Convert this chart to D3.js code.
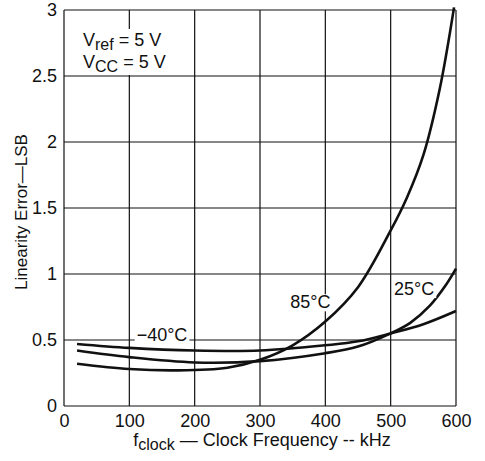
<!DOCTYPE html>
<html><head><meta charset="utf-8">
<script src="https://cdn.jsdelivr.net/npm/d3@7"></script>
<style>body{margin:0;background:#fff}svg{display:block}text{font-family:"Liberation Sans",Arial,sans-serif;fill:#111}</style>
</head><body><svg id="c" width="485" height="461"></svg>
<script>
const xTicks = [0,100,200,300,400,500,600];
const yTicks = [0,0.5,1,1.5,2,2.5,3];
const yTickLabels = ["0","0.5","1","1.5","2","2.5","3"];
const freqM40 = [20,100,200,300,400,450,500,550,600];
const valM40  = [0.47,0.44,0.42,0.42,0.46,0.49,0.55,0.62,0.72];
const freq25 = [20,100,200,300,400,450,500,530,560,585,600];
const val25  = [0.42,0.37,0.33,0.34,0.40,0.45,0.55,0.63,0.76,0.92,1.04];
const freq85 = [20,100,175,250,300,350,400,450,500,525,550,575,597];
const val85  = [0.32,0.28,0.27,0.29,0.35,0.46,0.64,0.90,1.33,1.58,1.90,2.40,3.02];
const curveLabels = [
  {t:"\u221240\u00b0C", f:150, v:0.49},
  {t:"85\u00b0C", f:377, v:0.74},
  {t:"25\u00b0C", f:536, v:0.84}
];

const svg = d3.select("#c");
const x = d3.scaleLinear().domain([0,600]).range([64,456]);
const y = d3.scaleLinear().domain([0,3]).range([406,10]);

// grid
const g = svg.append("g");
g.selectAll("line.v").data(xTicks).join("line")
  .attr("x1",d=>x(d)).attr("x2",d=>x(d)).attr("y1",y(0)).attr("y2",y(3))
  .attr("stroke","#111").attr("stroke-width",1.2);
g.selectAll("line.h").data(yTicks).join("line")
  .attr("x1",x(0)).attr("x2",x(600)).attr("y1",d=>y(d)).attr("y2",d=>y(d))
  .attr("stroke","#111").attr("stroke-width",1.2);

// axes (labels only)
const xAxis = d3.axisBottom(x).tickValues(xTicks).tickSize(0).tickPadding(8).tickFormat(d3.format("d"));
const xa = svg.append("g").attr("transform",`translate(0,${y(0)})`).call(xAxis);
xa.select(".domain").remove();
xa.selectAll("text").attr("font-size",18).attr("font-family","Liberation Sans, Arial, sans-serif").attr("fill","#111");
const yAxis = d3.axisLeft(y).tickValues(yTicks).tickSize(0).tickPadding(7).tickFormat((d,i)=>yTickLabels[i]);
const ya = svg.append("g").attr("transform",`translate(${x(0)},0)`).call(yAxis);
ya.select(".domain").remove();
ya.selectAll("text").attr("font-size",18).attr("font-family","Liberation Sans, Arial, sans-serif").attr("fill","#111");

// curves
const line = d3.line().x(d=>x(d[0])).y(d=>y(d[1])).curve(d3.curveCatmullRom.alpha(0.5));
const series = [[freqM40,valM40],[freq25,val25],[freq85,val85]];
series.forEach(([f,v])=>{
  svg.append("path").datum(f.map((d,i)=>[d,v[i]])).attr("d",line)
    .attr("fill","none").attr("stroke","#111").attr("stroke-width",2.6);
});
// curve labels with white backing
const lg = svg.append("g");
curveLabels.forEach(l=>{
  const r = lg.append("rect").attr("fill","#fff");
  const t = lg.append("text").attr("x",x(l.f)).attr("y",y(l.v)).attr("text-anchor","middle")
    .attr("font-size",18).text(l.t);
  const b = t.node().getBBox();
  r.attr("x",b.x-2).attr("y",b.y+2).attr("width",b.width+4).attr("height",b.height-3);
});

// conditions
const cg = svg.append("g");
const cr = cg.append("rect").attr("fill","#fff");
const c1 = cg.append("text").attr("x",83).attr("y",46).attr("font-size",18);
c1.append("tspan").text("V");
c1.append("tspan").attr("dy",4).attr("font-size",16).text("ref");
c1.append("tspan").attr("dy",-4).text(" = 5 V");
const c2 = cg.append("text").attr("x",83).attr("y",68).attr("font-size",18);
c2.append("tspan").text("V");
c2.append("tspan").attr("dy",4).attr("font-size",16).text("CC");
c2.append("tspan").attr("dy",-4).text(" = 5 V");
const bb = cg.node().getBBox();
cr.attr("x",bb.x-3).attr("y",bb.y-1).attr("width",bb.width+6).attr("height",bb.height+1);

// axis titles
const xt = svg.append("text").attr("x",262).attr("y",446).attr("text-anchor","middle").attr("font-size",18);
xt.append("tspan").text("f");
xt.append("tspan").attr("dy",4).attr("font-size",16).text("clock");
xt.append("tspan").attr("dy",-4).text(" \u2014 Clock Frequency -- kHz");
svg.append("text").attr("transform","translate(27,212) rotate(-90)").attr("text-anchor","middle")
  .attr("font-size",17).text("Linearity Error\u2014LSB");
</script></body></html>
